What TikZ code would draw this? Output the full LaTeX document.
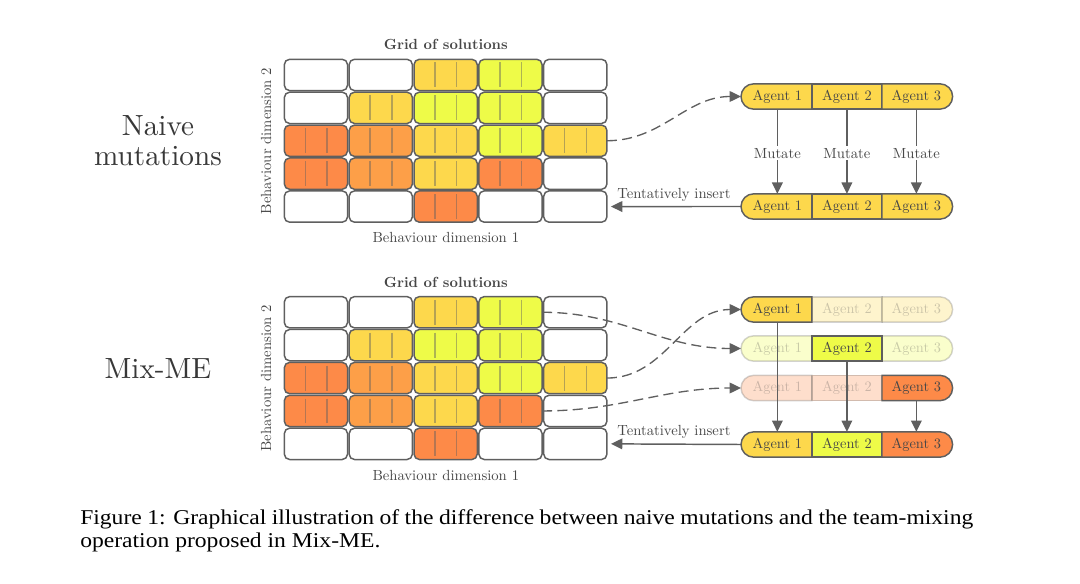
\documentclass[tikz,border=0pt]{standalone}
\usepackage{fontspec}
\setmainfont{lmroman10-regular.otf}[BoldFont=lmroman10-bold.otf]
\newfontfamily\capfont{Liberation Serif}[FakeStretch=1.12]
\usetikzlibrary{arrows.meta,shapes.misc}
\definecolor{lc}{HTML}{5F5F5F}
\definecolor{txt}{HTML}{474747}
\definecolor{bigtxt}{HTML}{383838}
\definecolor{cY}{HTML}{FDD84C}
\definecolor{cL}{HTML}{EEFB48}
\definecolor{cO}{HTML}{FD8A48}
\definecolor{cP}{HTML}{FD9F48}
\newcommand\lblfont{\fontsize{11}{13}\selectfont}
\newcommand\agentfont{\fontsize{10.8}{13}\selectfont}
\newcommand\bigfont{\fontsize{21.9}{22.5}\selectfont}
\tikzset{
  cell/.style={draw=lc, line width=1.1pt, rounded corners=4pt, minimum width=47.4pt, minimum height=23.5pt, inner sep=0pt, outer sep=0pt},
  divider/.style={draw=lc, draw opacity=0.45, line width=1pt},
  segbase/.style={draw=lc, line width=1.1pt, minimum height=19pt, inner sep=0pt, outer sep=0pt, text=txt, font=\agentfont},
  segL/.style={segbase, rounded rectangle, rounded rectangle right arc=none, minimum width=53.1pt, anchor=east},
  segM/.style={segbase, rectangle, minimum width=52.65pt},
  segR/.style={segbase, rounded rectangle, rounded rectangle left arc=none, minimum width=52.95pt, anchor=west},
  faded/.style={opacity=0.28},
  conn/.style={draw=lc, line width=1.1pt, -{Triangle[length=8.5pt,width=8pt]}},
  dconn/.style={draw=lc, line width=1pt, dash pattern=on 7.5pt off 4pt, -{Triangle[length=8.5pt,width=8pt]}},
  lbl/.style={text=txt, font=\lblfont},
  big/.style={text=bigtxt, font=\bigfont},
}
\newcommand\solgrid[2]{%
  \foreach \r/\c/\f in {1/1/white,1/2/white,1/3/cY,1/4/cL,1/5/white,
                        2/1/white,2/2/cY,2/3/cL,2/4/cL,2/5/white,
                        3/1/cO,3/2/cP,3/3/cY,3/4/cL,3/5/cY,
                        4/1/cO,4/2/cP,4/3/cY,4/4/cO,4/5/white,
                        5/1/white,5/2/white,5/3/cO,5/4/white,5/5/white}{%
    \node[cell,fill=\f] (#1-\r-\c) at ({283.5+(\c-0.5)*64.85},{#2+(\r-0.5)*32.9}) {};
  }
  \foreach \r/\c in {1/3,1/4,2/2,2/3,2/4,3/1,3/2,3/3,3/4,3/5,4/1,4/2,4/3,4/4,5/3}{%
    \foreach \k in {21.8,43.6}{%
      \draw[divider] ({283.5+(\c-1)*64.85+\k},{#2+(\r-1)*32.9+4}) -- ({283.5+(\c-1)*64.85+\k},{#2+\r*32.9-4});
    }
  }
}
\begin{document}
\begin{tikzpicture}[x=0.75pt,y=-0.75pt]
\useasboundingbox (0,0) rectangle (1080,584);

% ---------- top: naive mutations ----------
\solgrid{t}{58.5}
\node[lbl, font=\lblfont\bfseries, anchor=base] (gt) at (445.8,49.5) {Grid of solutions};
\node[lbl, anchor=base] (xt) at (445.8,243) {Behaviour dimension 1};
\node[lbl, rotate=90, anchor=base] (yt) at (271,141) {Behaviour dimension 2};
\node[big, align=center] (nm) at (158,140.5) {Naive\\mutations};

\node[segL, fill=cY] (a1) at (811.8,96.5) {Agent 1};
\node[segM, fill=cY] (a2) at (846.9,96.5) {Agent 2};
\node[segR, fill=cY] (a3) at (882,96.5) {Agent 3};
\node[segL, fill=cY] (m1) at (811.8,206.5) {Agent 1};
\node[segM, fill=cY] (m2) at (846.9,206.5) {Agent 2};
\node[segR, fill=cY] (m3) at (882,206.5) {Agent 3};

\foreach \i in {1,2,3}{
  \draw[conn] (a\i.south) -- node[lbl, fill=white, inner sep=1.5pt, pos=0.52] {Mutate} (m\i.north);
}
\draw[conn, shorten >=3pt] (m1.west) -- node[lbl, above] {Tentatively insert} (t-5-5.east);
\draw[dconn] (t-3-5.east) to[out=0,in=180] (a1.west);

% ---------- bottom: Mix-ME ----------
\solgrid{b}{295.8}
\node[lbl, font=\lblfont\bfseries, anchor=base] (gb) at (445.8,287.7) {Grid of solutions};
\node[lbl, anchor=base] (xb) at (445.8,480) {Behaviour dimension 1};
\node[lbl, rotate=90, anchor=base] (yb) at (271,378.5) {Behaviour dimension 2};
\node[big, anchor=base] (mm) at (158,378.5) {Mix-ME};

\node[segM, fill=cY, faded] (p2) at (846.9,309.5) {Agent 2};
\node[segR, fill=cY, faded] (p3) at (882,309.5) {Agent 3};
\node[segL, fill=cY] (p1) at (811.8,309.5) {Agent 1};

\node[segL, fill=cL, faded] (q1) at (811.8,348.5) {Agent 1};
\node[segR, fill=cL, faded] (q3) at (882,348.5) {Agent 3};
\node[segM, fill=cL] (q2) at (846.9,348.5) {Agent 2};

\node[segL, fill=cO, faded] (s1) at (811.8,388) {Agent 1};
\node[segM, fill=cO, faded] (s2) at (846.9,388) {Agent 2};
\node[segR, fill=cO] (s3) at (882,388) {Agent 3};

\node[segL, fill=cY] (r1) at (811.8,444.5) {Agent 1};
\node[segM, fill=cL] (r2) at (846.9,444.5) {Agent 2};
\node[segR, fill=cO] (r3) at (882,444.5) {Agent 3};

\draw[conn] (p1.south) -- (r1.north);
\draw[conn] (q2.south) -- (r2.north);
\draw[conn] (s3.south) -- (r3.north);
\draw[conn, shorten >=3pt] (r1.west) -- node[lbl, above] {Tentatively insert} (b-5-5.east);

\draw[dconn] (b-1-4.east) to[out=0,in=180] (q1.west);
\draw[dconn] (b-3-5.east) to[out=0,in=180] (p1.west);
\draw[dconn] (b-4-4.east) to[out=0,in=180] (s1.west);

% ---------- caption ----------
\node[anchor=north west, inner sep=0pt, text width=669.75pt, align=justify, font=\capfont\fontsize{15.8}{16.9}\selectfont] (cap) at (80,509.5)
  {Figure 1: Graphical illustration of the difference between naive mutations and the team-mixing\linebreak operation proposed in Mix-ME.};
\end{tikzpicture}
\end{document}
